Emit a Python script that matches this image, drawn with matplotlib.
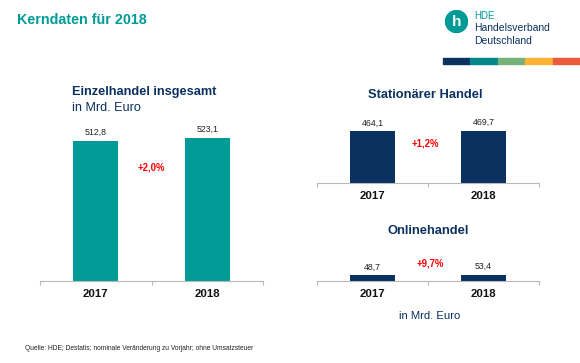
import numpy as np
import matplotlib
matplotlib.use("Agg")
import matplotlib.pyplot as plt
from matplotlib.patches import Circle, Rectangle

plt.rcParams['font.family'] = ['Liberation Sans', 'DejaVu Sans']

# data
years = ["2017", "2018"]
total = [512.8, 523.1]
stationary = [464.1, 469.7]
online = [48.7, 53.4]
growth_total = "+2,0%"
growth_stationary = "+1,2%"
growth_online = "+9,7%"

teal = "#009b96"
navy = "#0b3160"
red = "#ff0000"
axis_gray = "#b8b8b8"
logo_colors = ["#0b3160", "#00878a", "#74b27a", "#fbb333", "#ec5a3c"]

W, H = 580, 363
fig = plt.figure(figsize=(W / 100, H / 100), dpi=100)


def fx(x):
    return x / W


def fy(y):
    return 1 - y / H


def add_bar_axes(x0, x1, base, top, ymax, values, color):
    ax = fig.add_axes([fx(x0), fy(base), fx(x1 - x0), (base - top) / H])
    ax.set_facecolor("none")
    pos = np.arange(len(values))
    bars = ax.bar(pos, values, width=0.4, color=color)
    ax.set_xlim(-0.5, 1.5)
    ax.set_ylim(0, ymax)
    for s in ["top", "right", "left"]:
        ax.spines[s].set_visible(False)
    ax.spines["bottom"].set_color(axis_gray)
    ax.spines["bottom"].set_linewidth(0.8)
    ax.set_yticks([])
    ax.set_xticks(pos)
    ax.set_xticklabels(years, fontsize=8.2, fontweight="bold", color="#111111")
    ax.tick_params(axis="x", which="major", length=0, pad=6)
    ax.set_xticks([-0.5, 0.5, 1.5], minor=True)
    ax.tick_params(axis="x", which="minor", length=3, width=0.8, color=axis_gray)
    for b, v in zip(bars, values):
        ax.annotate(f"{v:.1f}".replace(".", ","),
                    (b.get_x() + b.get_width() / 2, b.get_height()),
                    xytext=(0, 6), textcoords="offset points",
                    ha="center", va="center", fontsize=6.3, color="#222222")
    return ax


# left chart
add_bar_axes(40, 263, 281, 117, 600, total, teal)
# right top
add_bar_axes(317, 539, 183, 116, 600, stationary, navy)
# right bottom
add_bar_axes(317, 539, 281, 221, 500, online, navy)

# header
fig.text(fx(17), fy(20), "Kerndaten für 2018", fontsize=10.3, fontweight="bold",
         color=teal, va="center", ha="left")

# logo
lax = fig.add_axes([fx(445), fy(33), fx(23), 23 / H])
lax.set_xlim(0, 1)
lax.set_ylim(0, 1)
lax.set_aspect("equal")
lax.axis("off")
lax.add_patch(Circle((0.5, 0.5), 0.48, color=teal))
lax.text(0.5, 0.47, "h", color="white", fontsize=11, fontweight="bold",
         ha="center", va="center")
fig.text(fx(474), fy(16), "HDE", fontsize=7, color=teal, va="center")
fig.text(fx(474), fy(28), "Handelsverband", fontsize=7.5, color=navy, va="center")
fig.text(fx(474), fy(41), "Deutschland", fontsize=7.5, color=navy, va="center")
seg = (580 - 443) / len(logo_colors)
for i, c in enumerate(logo_colors):
    fig.patches.append(Rectangle((fx(443 + i * seg), fy(64)), fx(seg), 6 / H,
                                 transform=fig.transFigure, color=c))

# titles
fig.text(fx(72), fy(92), "Einzelhandel insgesamt", fontsize=9.2,
         fontweight="bold", color=navy, va="center")
fig.text(fx(72), fy(108), "in Mrd. Euro", fontsize=9.1, color=navy, va="center")
fig.text(fx(151), fy(167), growth_total, fontsize=6.9, fontweight="bold",
         color=red, ha="center", va="center")

fig.text(fx(425), fy(95), "Stationärer Handel", fontsize=9.3,
         fontweight="bold", color=navy, ha="center", va="center")
fig.text(fx(425), fy(143), growth_stationary, fontsize=6.9, fontweight="bold",
         color=red, ha="center", va="center")
fig.text(fx(428), fy(231), "Onlinehandel", fontsize=9.3,
         fontweight="bold", color=navy, ha="center", va="center")
fig.text(fx(430), fy(263), growth_online, fontsize=6.9, fontweight="bold",
         color=red, ha="center", va="center")
fig.text(fx(430), fy(316), "in Mrd. Euro", fontsize=8.1, color=navy,
         ha="center", va="center")

fig.text(fx(25), fy(348),
         "Quelle: HDE; Destatis; nominale Veränderung zu Vorjahr; ohne Umsatzsteuer",
         fontsize=4.8, color="#222222", va="center")

fig.savefig("out.png", dpi=100)
